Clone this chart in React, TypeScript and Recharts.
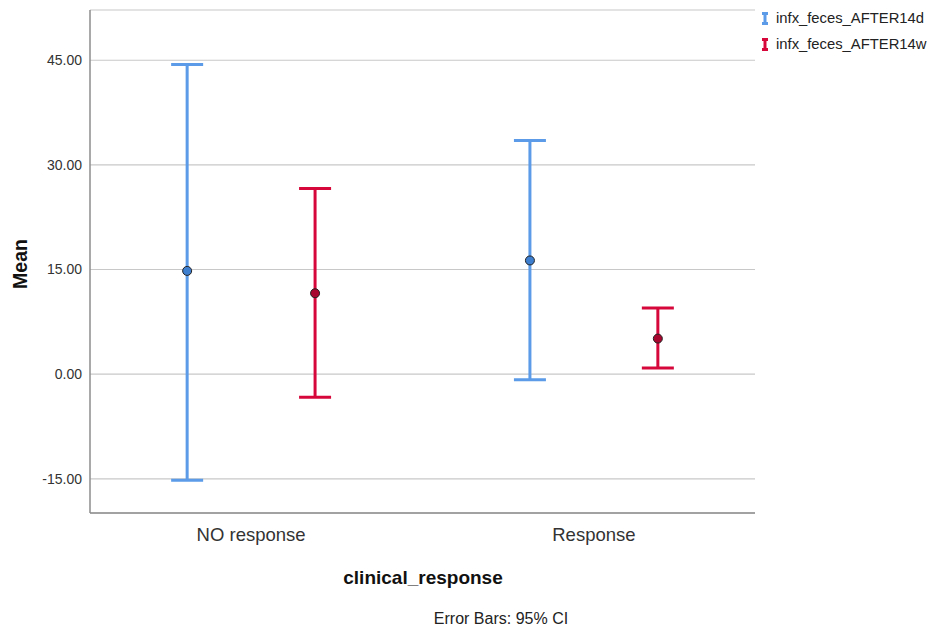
import React from 'react';
import { ComposedChart, Scatter, XAxis, YAxis, CartesianGrid, ErrorBar } from 'recharts';

const categories = ['NO response', 'Response'];
const yTicks = [-15, 0, 15, 30, 45];

const d14Mean = [14.8, 16.3];
const d14Low = [-15.2, -0.8];
const d14High = [44.4, 33.5];

const w14Mean = [11.6, 5.1];
const w14Low = [-3.3, 0.9];
const w14High = [26.6, 9.5];

const seriesNames = ['infx_feces_AFTER14d', 'infx_feces_AFTER14w'];
const BLUE = '#5b9be8';
const RED = '#d6083b';
const BLUE_DOT = '#3f7fcf';
const RED_DOT = '#a8062e';
const OFFSET = 0.1866;

const build = (mean: number[], low: number[], high: number[], shift: number) =>
  mean.map((m, i) => ({ x: i + shift, mean: m, err: [m - low[i], high[i] - m] }));

const d14Data = build(d14Mean, d14Low, d14High, -OFFSET);
const w14Data = build(w14Mean, w14Low, w14High, OFFSET);

const FONT = '"Liberation Sans", Arial, sans-serif';

const dot = (fill: string) => (props: any) => (
  <circle cx={props.cx} cy={props.cy} r={4.5} fill={fill} stroke="#222" strokeWidth={1} />
);

const LegendIcon = ({ color }: { color: string }) => (
  <svg width={8} height={13} style={{ display: 'block' }}>
    <line x1={1} y1={1.5} x2={7} y2={1.5} stroke={color} strokeWidth={3} />
    <line x1={4} y1={1} x2={4} y2={12} stroke={color} strokeWidth={3} />
    <line x1={1} y1={11.5} x2={7} y2={11.5} stroke={color} strokeWidth={3} />
  </svg>
);

export default function App() {
  return (
    <div style={{ position: 'absolute', left: 0, top: 0, width: 938, height: 630, background: '#fff', fontFamily: FONT }}>
      <ComposedChart width={938} height={630} margin={{ top: 10, right: 183, left: 0, bottom: 0 }}>
        <CartesianGrid vertical={false} stroke="#c8c8c8" strokeWidth={1.2} />
        <XAxis
          type="number"
          dataKey="x"
          domain={[-0.47, 1.47]}
          ticks={[0, 1]}
          allowDataOverflow
          tickFormatter={(v: number) => categories[v]}
          tickLine={false}
          axisLine={{ stroke: '#8c8c8c', strokeWidth: 1.5 }}
          tick={{ fill: '#333', fontSize: 18.5, fontFamily: FONT }}
          tickMargin={9}
          height={117}
        />
        <YAxis
          type="number"
          dataKey="mean"
          domain={[-19.9, 52.2]}
          ticks={yTicks}
          allowDataOverflow
          tickFormatter={(v: number) => v.toFixed(2)}
          tickLine={false}
          axisLine={{ stroke: '#8c8c8c', strokeWidth: 1.5 }}
          tick={{ fill: '#333', fontSize: 14, fontFamily: FONT }}
          width={90}
        />
        <Scatter name={seriesNames[0]} data={d14Data} dataKey="mean" isAnimationActive={false} shape={dot(BLUE_DOT)}>
          <ErrorBar dataKey="err" direction="y" width={16} stroke={BLUE} strokeWidth={3} isAnimationActive={false} />
        </Scatter>
        <Scatter name={seriesNames[1]} data={w14Data} dataKey="mean" isAnimationActive={false} shape={dot(RED_DOT)}>
          <ErrorBar dataKey="err" direction="y" width={16} stroke={RED} strokeWidth={3} isAnimationActive={false} />
        </Scatter>
      </ComposedChart>

      <div style={{ position: 'absolute', left: 20, top: 264, transform: 'translate(-50%, -50%) rotate(-90deg)', fontWeight: 'bold', fontSize: 19.5, color: '#111', whiteSpace: 'nowrap' }}>
        Mean
      </div>
      <div style={{ position: 'absolute', left: 423, top: 578, transform: 'translate(-50%, -50%)', fontWeight: 'bold', fontSize: 19, color: '#111', whiteSpace: 'nowrap' }}>
        clinical_response
      </div>
      <div style={{ position: 'absolute', left: 501, top: 619, transform: 'translate(-50%, -50%)', fontSize: 16, color: '#222', whiteSpace: 'nowrap' }}>
        Error Bars: 95% CI
      </div>

      <div style={{ position: 'absolute', left: 761, top: 7, fontSize: 14.8, color: '#222' }}>
        {seriesNames.map((n, i) => (
          <div key={n} style={{ display: 'flex', alignItems: 'center', height: 22, marginBottom: 4 }}>
            <LegendIcon color={i === 0 ? BLUE : RED} />
            <span style={{ marginLeft: 7 }}>{n}</span>
          </div>
        ))}
      </div>
    </div>
  );
}
